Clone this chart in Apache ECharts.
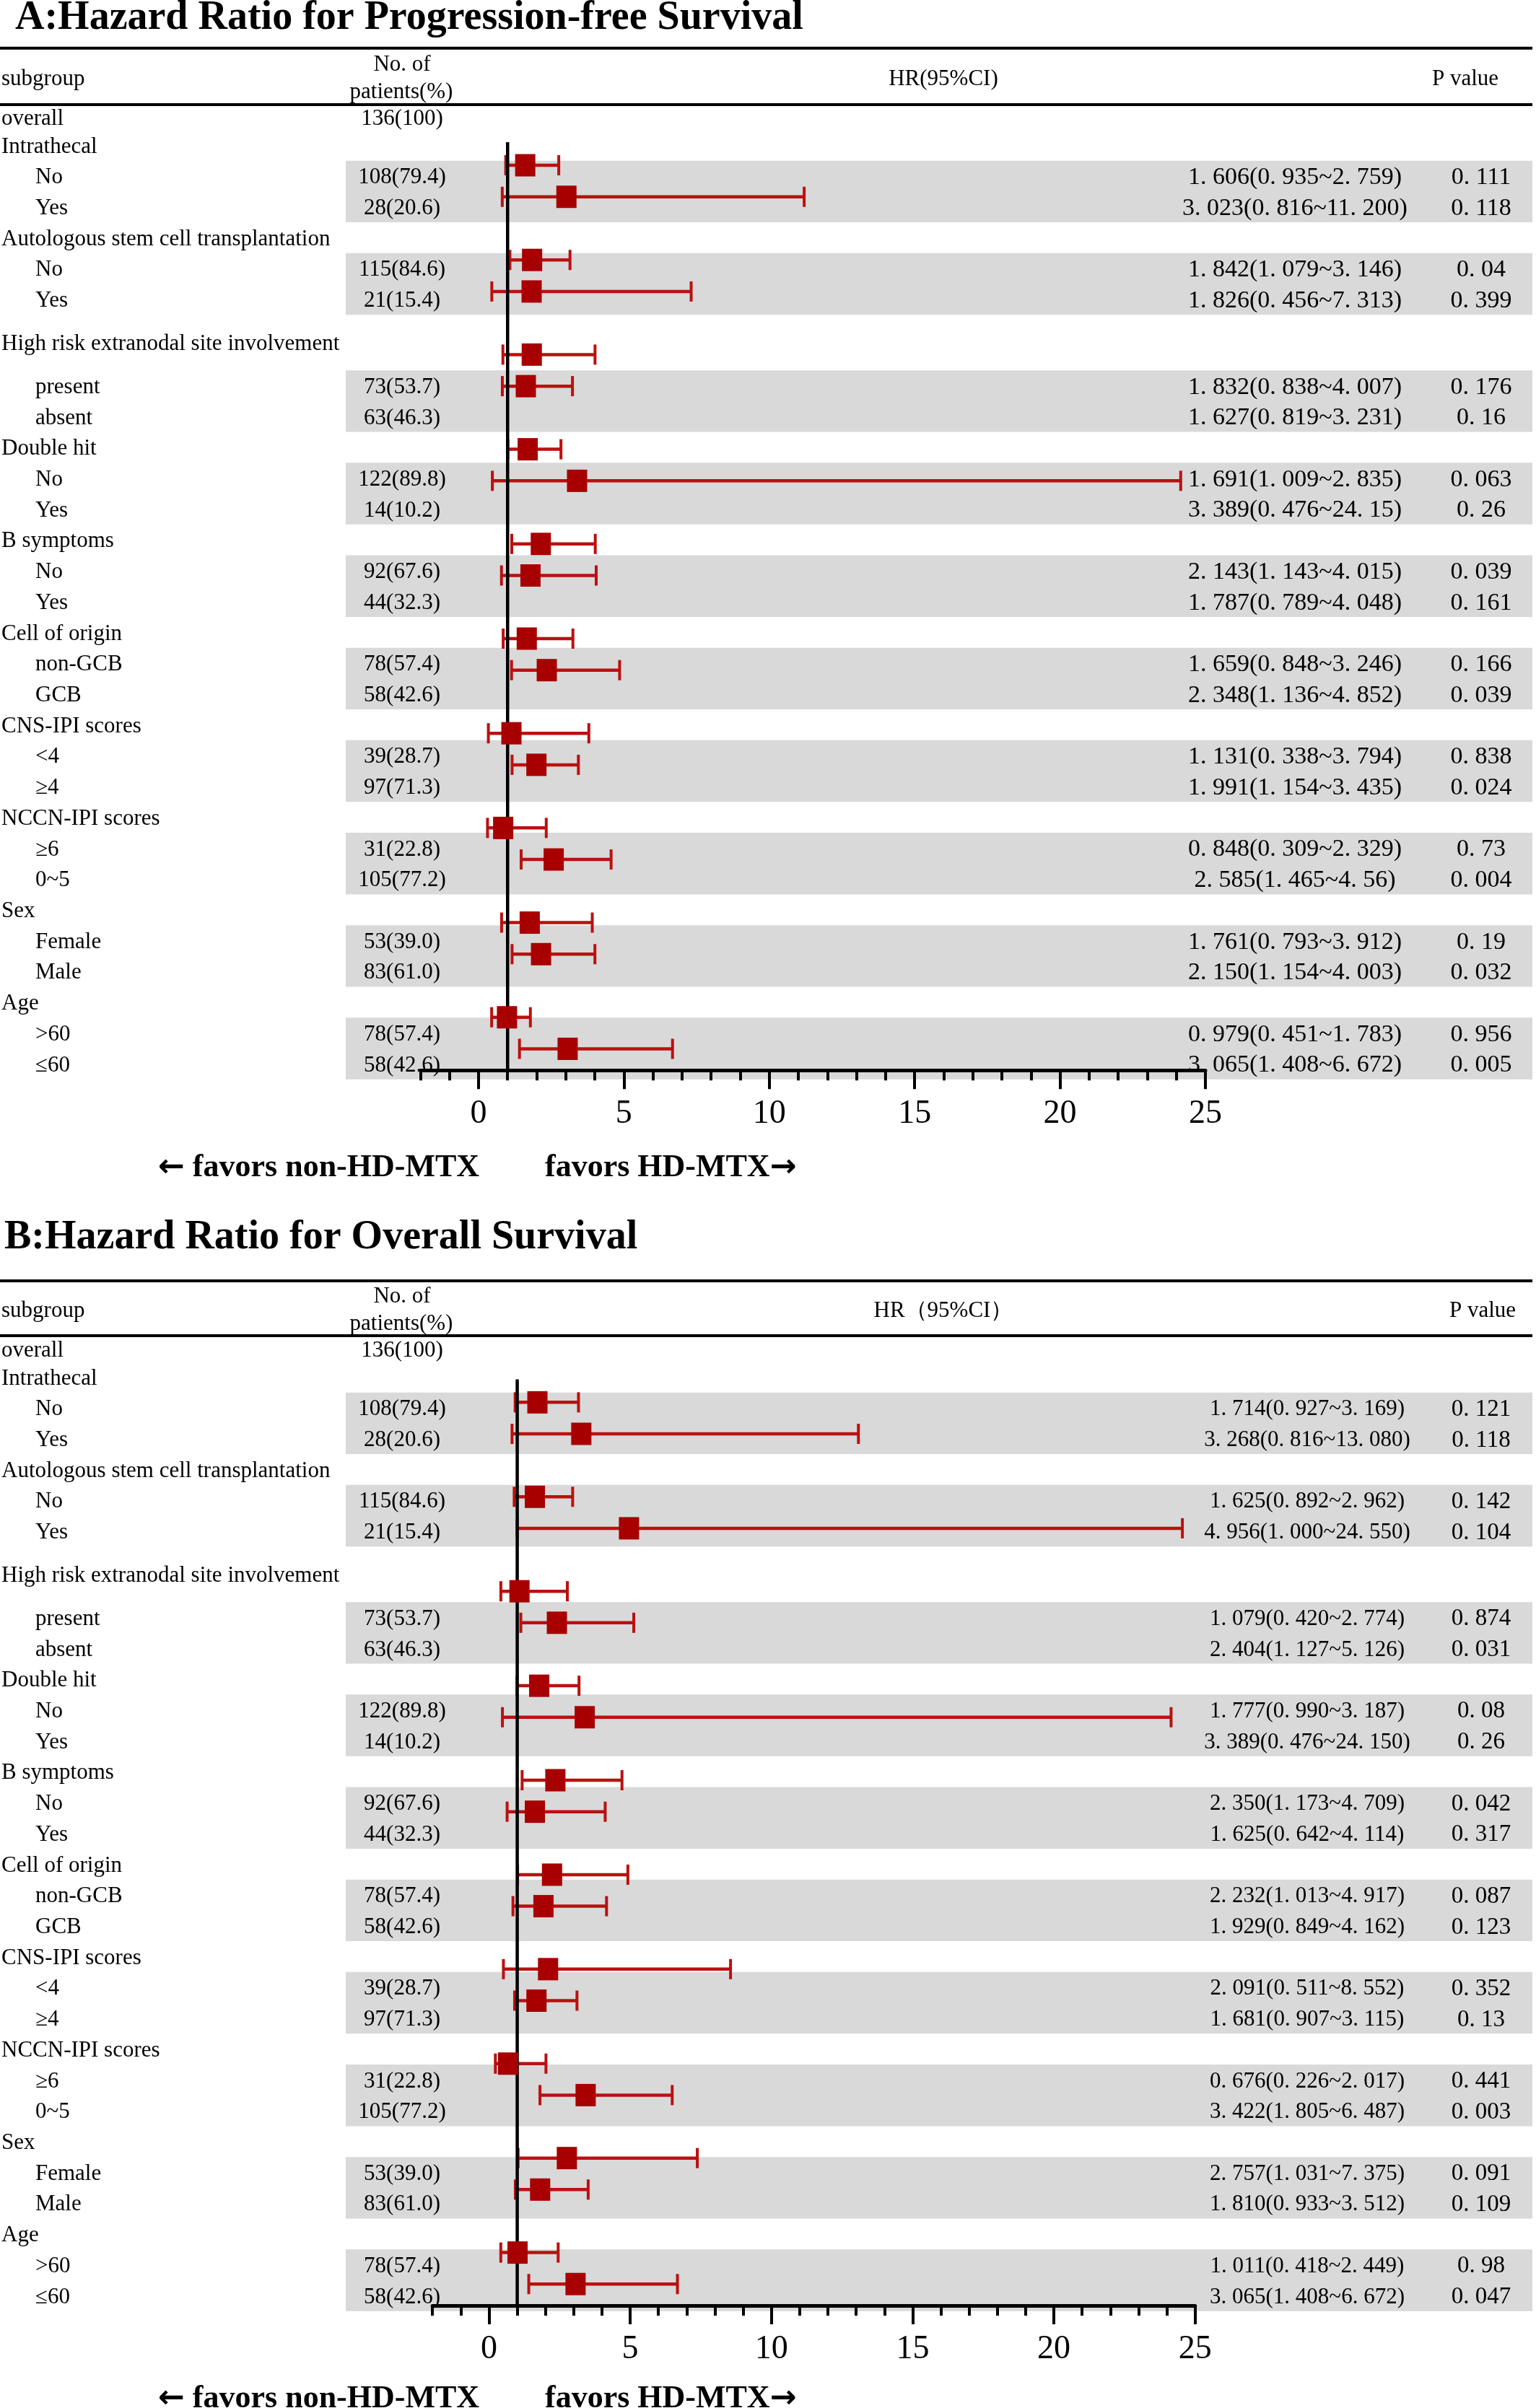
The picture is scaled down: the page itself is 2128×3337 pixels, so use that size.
<!DOCTYPE html>
<html>
<head>
<meta charset="utf-8">
<script src="https://cdn.jsdelivr.net/npm/echarts@6/dist/echarts.min.js"></script>
<style>
html,body{margin:0;padding:0;background:#ffffff;}
#chart{width:2128px;height:3337px;}
</style>
</head>
<body>
<div id="chart"></div>
<script>
// ---------------- DATA ----------------
const titleA = 'A:Hazard Ratio for Progression-free Survival';
const titleB = 'B:Hazard Ratio for Overall Survival';
const overallLabel = 'overall';
const overallN = '136(100)';
const groupNames = ['Intrathecal', 'Autologous stem cell transplantation', 'High risk extranodal site involvement',
  'Double hit', 'B symptoms', 'Cell of origin', 'CNS-IPI scores', 'NCCN-IPI scores', 'Sex', 'Age'];
const subgroupNames = ['No', 'Yes', 'No', 'Yes', 'present', 'absent', 'No', 'Yes', 'No', 'Yes',
  'non-GCB', 'GCB', '<4', '≥4', '≥6', '0~5', 'Female', 'Male', '>60', '≤60'];
const patients = ['108(79.4)', '28(20.6)', '115(84.6)', '21(15.4)', '73(53.7)', '63(46.3)', '122(89.8)', '14(10.2)',
  '92(67.6)', '44(32.3)', '78(57.4)', '58(42.6)', '39(28.7)', '97(71.3)', '31(22.8)', '105(77.2)',
  '53(39.0)', '83(61.0)', '78(57.4)', '58(42.6)'];

// Panel A: progression-free survival
const pfsHR = ['1.606', '3.023', '1.842', '1.826', '1.832', '1.627', '1.691', '3.389', '2.143', '1.787',
  '1.659', '2.348', '1.131', '1.991', '0.848', '2.585', '1.761', '2.150', '0.979', '3.065'];
const pfsLow = ['0.935', '0.816', '1.079', '0.456', '0.838', '0.819', '1.009', '0.476', '1.143', '0.789',
  '0.848', '1.136', '0.338', '1.154', '0.309', '1.465', '0.793', '1.154', '0.451', '1.408'];
const pfsHigh = ['2.759', '11.200', '3.146', '7.313', '4.007', '3.231', '2.835', '24.15', '4.015', '4.048',
  '3.246', '4.852', '3.794', '3.435', '2.329', '4.56', '3.912', '4.003', '1.783', '6.672'];
const pfsP = ['0.111', '0.118', '0.04', '0.399', '0.176', '0.16', '0.063', '0.26', '0.039', '0.161',
  '0.166', '0.039', '0.838', '0.024', '0.73', '0.004', '0.19', '0.032', '0.956', '0.005'];

// Panel B: overall survival
const osHR = ['1.714', '3.268', '1.625', '4.956', '1.079', '2.404', '1.777', '3.389', '2.350', '1.625',
  '2.232', '1.929', '2.091', '1.681', '0.676', '3.422', '2.757', '1.810', '1.011', '3.065'];
const osLow = ['0.927', '0.816', '0.892', '1.000', '0.420', '1.127', '0.990', '0.476', '1.173', '0.642',
  '1.013', '0.849', '0.511', '0.907', '0.226', '1.805', '1.031', '0.933', '0.418', '1.408'];
const osHigh = ['3.169', '13.080', '2.962', '24.550', '2.774', '5.126', '3.187', '24.150', '4.709', '4.114',
  '4.917', '4.162', '8.552', '3.115', '2.017', '6.487', '7.375', '3.512', '2.449', '6.672'];
const osP = ['0.121', '0.118', '0.142', '0.104', '0.874', '0.031', '0.08', '0.26', '0.042', '0.317',
  '0.087', '0.123', '0.352', '0.13', '0.441', '0.003', '0.091', '0.109', '0.98', '0.047'];

const refHR = 1;
const axisMin = -2;
const axisMax = 25;
const majorTicks = [0, 5, 10, 15, 20, 25];
const minorTicks = [-2, -1, 1, 2, 3, 4, 6, 7, 8, 9, 11, 12, 13, 14, 16, 17, 18, 19, 21, 22, 23, 24];
const headerSubgroup = 'subgroup';
const headerN1 = 'No. of';
const headerN2 = 'patients(%)';
const headerHRA = 'HR(95%CI)';
const headerHRB = 'HR（95%CI）';
const headerP = 'P value';
const arrowLeft = '←';
const favorLeft = ' favors non-HD-MTX';
const favorRight = 'favors HD-MTX';
const arrowRight = '→';

// ---------------- LAYOUT / STYLE ----------------
const SERIF = "'Liberation Serif','Times New Roman',serif";
const bodyFont = "31px " + SERIF;
const RED_LINE = '#bb1010';
const RED_BOX = '#a80000';
const BAND = '#d9d9d9';

// row positions (in row units) of the table text
function rowLayout() {
  const headerPos = [], subPos = [];
  let pos = 0.9;
  groupNames.forEach((g, gi) => {
    const tall = gi === 2;
    if (gi > 0) pos += tall ? 1.4 : 1;
    headerPos.push(pos);
    pos += tall ? 1.4 : 1; subPos.push(pos);
    pos += 1; subPos.push(pos);
  });
  return { headerPos, subPos };
}
const layout = rowLayout();
const sp = s => s.replace('.', '. ');

const TABLE_Y_MIN = -1, TABLE_Y_MAX = 32;
const ROW_PX = 42.72;
const FOREST_Y_MIN = -0.73, FOREST_Y_MAX = 28.68;

const panels = [
  {
    title: titleA, titleX: 21, titleY: 26, dy: 0,
    hr: pfsHR, lo: pfsLow, hi: pfsHigh, p: pfsP, hrHeader: headerHRA,
    hrX: 1794, hrFont: "34px " + SERIF, pX: 2052, pFont: "34px " + SERIF, pHeadX: 2030,
    fLeft: 582.4, fRight: 1670, fTop: 197.1, fBottom: 1483.2,
    rules: [66.7, 145], labelY: 1619
  },
  {
    title: titleB, titleX: 6, titleY: 1716, dy: 1707,
    hr: osHR, lo: osLow, hi: osHigh, p: osP, hrHeader: headerHRB,
    hrX: 1811, hrFont: "31px " + SERIF, pX: 2052, pFont: "33px " + SERIF, pHeadX: 2054,
    fLeft: 599.2, fRight: 1655.7, fTop: 1911.5, fBottom: 3194.9,
    rules: [1775, 1851], labelY: 3325
  }
];

const grid = [], xAxis = [], yAxis = [], series = [], graphic = [];

panels.forEach((P, pi) => {
  const tableTop = 165 - ROW_PX * (0 - TABLE_Y_MIN) + P.dy;
  grid.push({ left: 0, top: tableTop, width: 2128, height: ROW_PX * (TABLE_Y_MAX - TABLE_Y_MIN), outerBoundsMode: 'none', containLabel: false });
  grid.push({ left: P.fLeft, top: P.fTop, width: P.fRight - P.fLeft, height: P.fBottom - P.fTop, outerBoundsMode: 'none', containLabel: false });
  const gT = pi * 2, gF = pi * 2 + 1;
  const xT = xAxis.length;
  xAxis.push({ gridIndex: gT, type: 'value', min: 0, max: 2128, show: false });
  const xF = xAxis.length;
  xAxis.push({
    gridIndex: gF, type: 'value', min: axisMin, max: axisMax, position: 'bottom', z: 10,
    axisLine: { show: true, onZero: false, lineStyle: { color: '#000', width: 5 } },
    axisTick: { show: true, customValues: majorTicks, length: 26, lineStyle: { color: '#000', width: 4 } },
    axisLabel: { show: true, customValues: majorTicks, margin: 38, fontFamily: SERIF, fontSize: 46, color: '#000' },
    splitLine: { show: false }, minorTick: { show: false }
  });
  xAxis.push({
    gridIndex: gF, type: 'value', min: axisMin, max: axisMax, position: 'bottom', offset: 0, z: 10,
    axisLine: { show: false, onZero: false },
    axisTick: { show: true, customValues: minorTicks, length: 14, lineStyle: { color: '#000', width: 4 } },
    axisLabel: { show: false }, splitLine: { show: false }
  });
  const yT = yAxis.length;
  yAxis.push({ gridIndex: gT, type: 'value', min: TABLE_Y_MIN, max: TABLE_Y_MAX, inverse: true, show: false });
  const yF = yAxis.length;
  yAxis.push({ gridIndex: gF, type: 'value', min: FOREST_Y_MIN, max: FOREST_Y_MAX, inverse: true, show: false });

  // gray bands
  const bandData = groupNames.map((g, gi) => [layout.subPos[2 * gi], layout.subPos[2 * gi + 1]]);
  series.push({
    type: 'custom', xAxisIndex: xT, yAxisIndex: yT, z: 1, silent: true, animation: false,
    data: bandData,
    renderItem: (params, api) => {
      const a = api.coord([479, api.value(0) - 0.55]);
      const b = api.coord([2123, api.value(1) + 0.45]);
      return { type: 'rect', shape: { x: a[0], y: a[1], width: b[0] - a[0], height: b[1] - a[1] }, style: { fill: BAND } };
    }
  });

  // table text
  const items = [];
  items.push({ x: 2, y: 0, text: overallLabel, font: bodyFont, align: 'left' });
  items.push({ x: 557, y: 0, text: overallN, font: bodyFont, align: 'center' });
  groupNames.forEach((name, gi) => {
    items.push({ x: 2, y: layout.headerPos[gi], text: name, font: bodyFont, align: 'left' });
    [0, 1].forEach(j => {
      const i = 2 * gi + j;
      const y = layout.subPos[i];
      items.push({ x: 49, y, text: subgroupNames[i], font: bodyFont, align: 'left' });
      items.push({ x: 557, y, text: patients[i], font: bodyFont, align: 'center' });
      items.push({ x: P.hrX, y, text: sp(P.hr[i]) + '(' + sp(P.lo[i]) + '~' + sp(P.hi[i]) + ')', font: P.hrFont, align: 'center' });
      items.push({ x: P.pX, y, text: sp(P.p[i]), font: P.pFont, align: 'center' });
    });
  });
  series.push({
    type: 'custom', xAxisIndex: xT, yAxisIndex: yT, z: 3, silent: true, animation: false,
    data: items.map(t => [t.x, t.y]),
    renderItem: (params, api) => {
      const t = items[params.dataIndex];
      const c = api.coord([api.value(0), api.value(1)]);
      return { type: 'text', x: c[0], y: c[1], style: { text: t.text, font: t.font, fill: '#000', align: t.align, verticalAlign: 'middle' } };
    }
  });

  // forest data
  const forest = [];
  groupNames.forEach((g, gi) => {
    [0, 1].forEach(j => {
      const i = 2 * gi + j;
      forest.push({ hr: Number(P.hr[i]), lo: Number(P.lo[i]), hi: Number(P.hi[i]), k: 3 * gi + j });
    });
  });
  series.push({
    type: 'custom', xAxisIndex: xF, yAxisIndex: yF, z: 3, silent: true, animation: false,
    data: forest.map(d => [d.lo, d.hi, d.k]),
    encode: { x: [0, 1], y: 2 },
    renderItem: (params, api) => {
      const a = api.coord([api.value(0), api.value(2)]);
      const b = api.coord([api.value(1), api.value(2)]);
      const st = { stroke: RED_LINE, lineWidth: 4.5 };
      return {
        type: 'group', children: [
          { type: 'line', shape: { x1: a[0], y1: a[1], x2: b[0], y2: b[1] }, style: st },
          { type: 'line', shape: { x1: a[0], y1: a[1] - 14, x2: a[0], y2: a[1] + 14 }, style: { stroke: RED_LINE, lineWidth: 4 } },
          { type: 'line', shape: { x1: b[0], y1: b[1] - 14, x2: b[0], y2: b[1] + 14 }, style: { stroke: RED_LINE, lineWidth: 4 } }
        ]
      };
    }
  });
  // reference line at HR = 1
  series.push({
    type: 'custom', xAxisIndex: xF, yAxisIndex: yF, z: 4, silent: true, animation: false,
    data: [[refHR]],
    renderItem: (params, api) => {
      const a = api.coord([api.value(0), FOREST_Y_MIN]);
      const b = api.coord([api.value(0), FOREST_Y_MAX]);
      return { type: 'line', shape: { x1: a[0], y1: a[1], x2: b[0], y2: b[1] }, style: { stroke: '#000', lineWidth: 4.5 } };
    }
  });
  // point estimates
  series.push({
    type: 'scatter', xAxisIndex: xF, yAxisIndex: yF, z: 5, silent: true, animation: false,
    symbol: 'rect', symbolSize: [28, 31],
    itemStyle: { color: RED_BOX, opacity: 1 },
    data: forest.map(d => [d.hr, d.k])
  });

  // titles, rules, headers, footer labels
  const dy = P.dy;
  graphic.push({ type: 'text', x: P.titleX, y: P.titleY, silent: true,
    style: { text: P.title, font: "bold 56px " + SERIF, fill: '#000', align: 'left', verticalAlign: 'middle' } });
  P.rules.forEach(ry => graphic.push({ type: 'line', silent: true, shape: { x1: 0, y1: ry, x2: 2123, y2: ry }, style: { stroke: '#000', lineWidth: 4 } }));
  const head = [
    { x: 2, y: 110, t: headerSubgroup, a: 'left' },
    { x: 557, y: 90, t: headerN1, a: 'center' },
    { x: 556, y: 128, t: headerN2, a: 'center' },
    { x: 1307, y: 110, t: P.hrHeader, a: 'center' },
    { x: P.pHeadX, y: 110, t: headerP, a: 'center' }
  ];
  head.forEach(h => graphic.push({ type: 'text', x: h.x, y: h.y + dy, silent: true,
    style: { text: h.t, font: bodyFont, fill: '#000', align: h.a, verticalAlign: 'middle' } }));
  const labelFont = "bold 44px " + SERIF;
  const arrowFont = "bold 44px 'DejaVu Sans'";
  graphic.push({ type: 'text', x: 219, y: P.labelY, silent: true,
    style: { text: '{ar|' + arrowLeft + '}' + favorLeft, font: labelFont, fill: '#000', align: 'left', verticalAlign: 'middle',
      rich: { ar: { font: arrowFont, fill: '#000' } } } });
  graphic.push({ type: 'text', x: 755, y: P.labelY, silent: true,
    style: { text: favorRight + '{ar|' + arrowRight + '}', font: labelFont, fill: '#000', align: 'left', verticalAlign: 'middle',
      rich: { ar: { font: arrowFont, fill: '#000' } } } });
});

const chart = echarts.init(document.getElementById('chart'), null, { renderer: 'canvas', width: 2128, height: 3337 });
chart.setOption({
  backgroundColor: '#ffffff',
  animation: false,
  grid, xAxis, yAxis, series, graphic
});
</script>
</body>
</html>
